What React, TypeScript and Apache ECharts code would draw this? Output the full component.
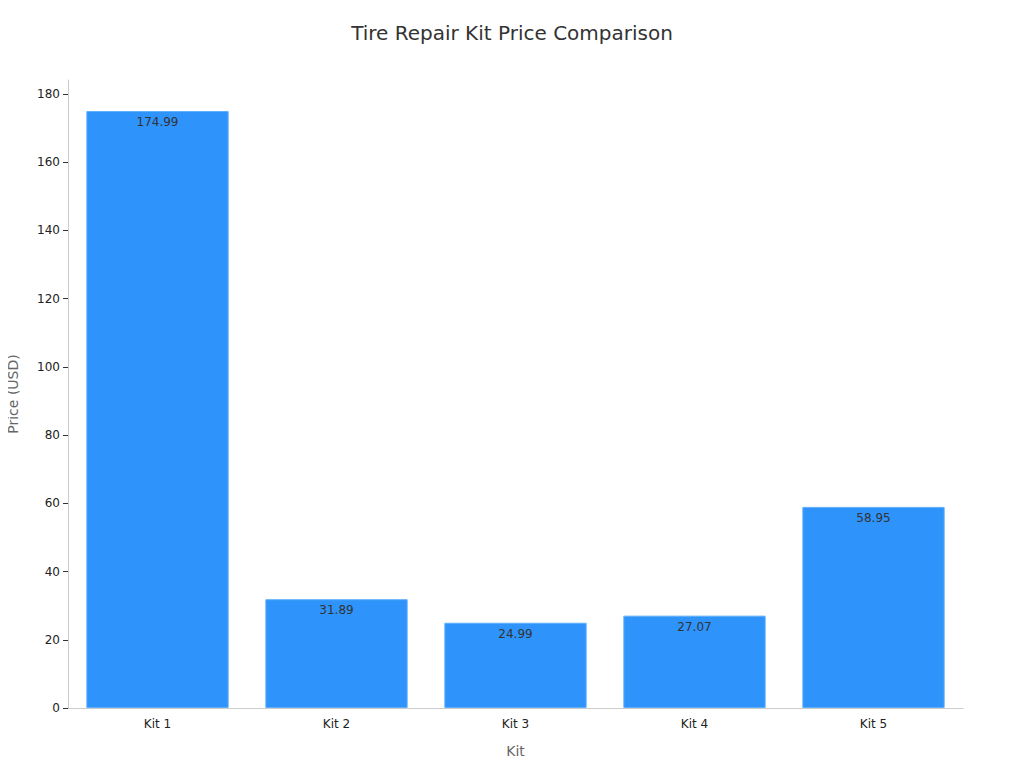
import React, { useEffect, useRef } from "react";
import * as echarts from "echarts";

const categories = ["Kit 1", "Kit 2", "Kit 3", "Kit 4", "Kit 5"];
const prices = [174.99, 31.89, 24.99, 27.07, 58.95];
const yTicks = [0, 20, 40, 60, 80, 100, 120, 140, 160, 180];

export default function App() {
  const ref = useRef<HTMLDivElement>(null);
  useEffect(() => {
    if (!ref.current) return;
    const chart = echarts.init(ref.current, null, { renderer: "svg" });
    const font = "DejaVu Sans";
    chart.setOption({
      animation: false,
      textStyle: { fontFamily: font },
      title: {
        text: "Tire Repair Kit Price Comparison",
        left: "center",
        top: 18,
        textStyle: { fontFamily: font, fontSize: 20, fontWeight: "normal", color: "#333" },
      },
      grid: { left: 68, right: 61, top: 80, bottom: 60, containLabel: false, outerBoundsMode: "none" },
      xAxis: {
        type: "category",
        data: categories,
        name: "Kit",
        nameLocation: "middle",
        nameGap: 36,
        nameMoveOverlap: false,
        nameTextStyle: { fontFamily: font, fontSize: 14, color: "#666" },
        axisLine: { lineStyle: { color: "#ccc" } },
        axisTick: { alignWithLabel: true, lineStyle: { color: "#333" } },
        axisLabel: { fontFamily: font, fontSize: 12, color: "#222", margin: 10 },
      },
      yAxis: {
        type: "value",
        min: 0,
        max: (v: { max: number }) => v.max * 1.052,
        interval: 20,
        name: "Price (USD)",
        nameLocation: "middle",
        nameGap: 48,
        nameMoveOverlap: false,
        nameTextStyle: { fontFamily: font, fontSize: 14, color: "#666" },
        axisLine: { show: true, lineStyle: { color: "#ccc" } },
        axisTick: { show: true, customValues: yTicks, lineStyle: { color: "#333" } },
        axisLabel: { fontFamily: font, fontSize: 12, color: "#222", customValues: yTicks },
        splitLine: { show: false },
      },
      series: [
        {
          type: "bar",
          data: prices,
          barWidth: "79.5%",
          itemStyle: { color: "#2E93FA", borderColor: "#5EAEFB", borderWidth: 1 },
          label: {
            show: true,
            position: "insideTop",
            distance: 5,
            fontFamily: font,
            fontSize: 12,
            color: "#333",
          },
        },
      ],
    });
    return () => chart.dispose();
  }, []);
  return <div ref={ref} style={{ width: 1024, height: 768, margin: -8 }} />;
}
